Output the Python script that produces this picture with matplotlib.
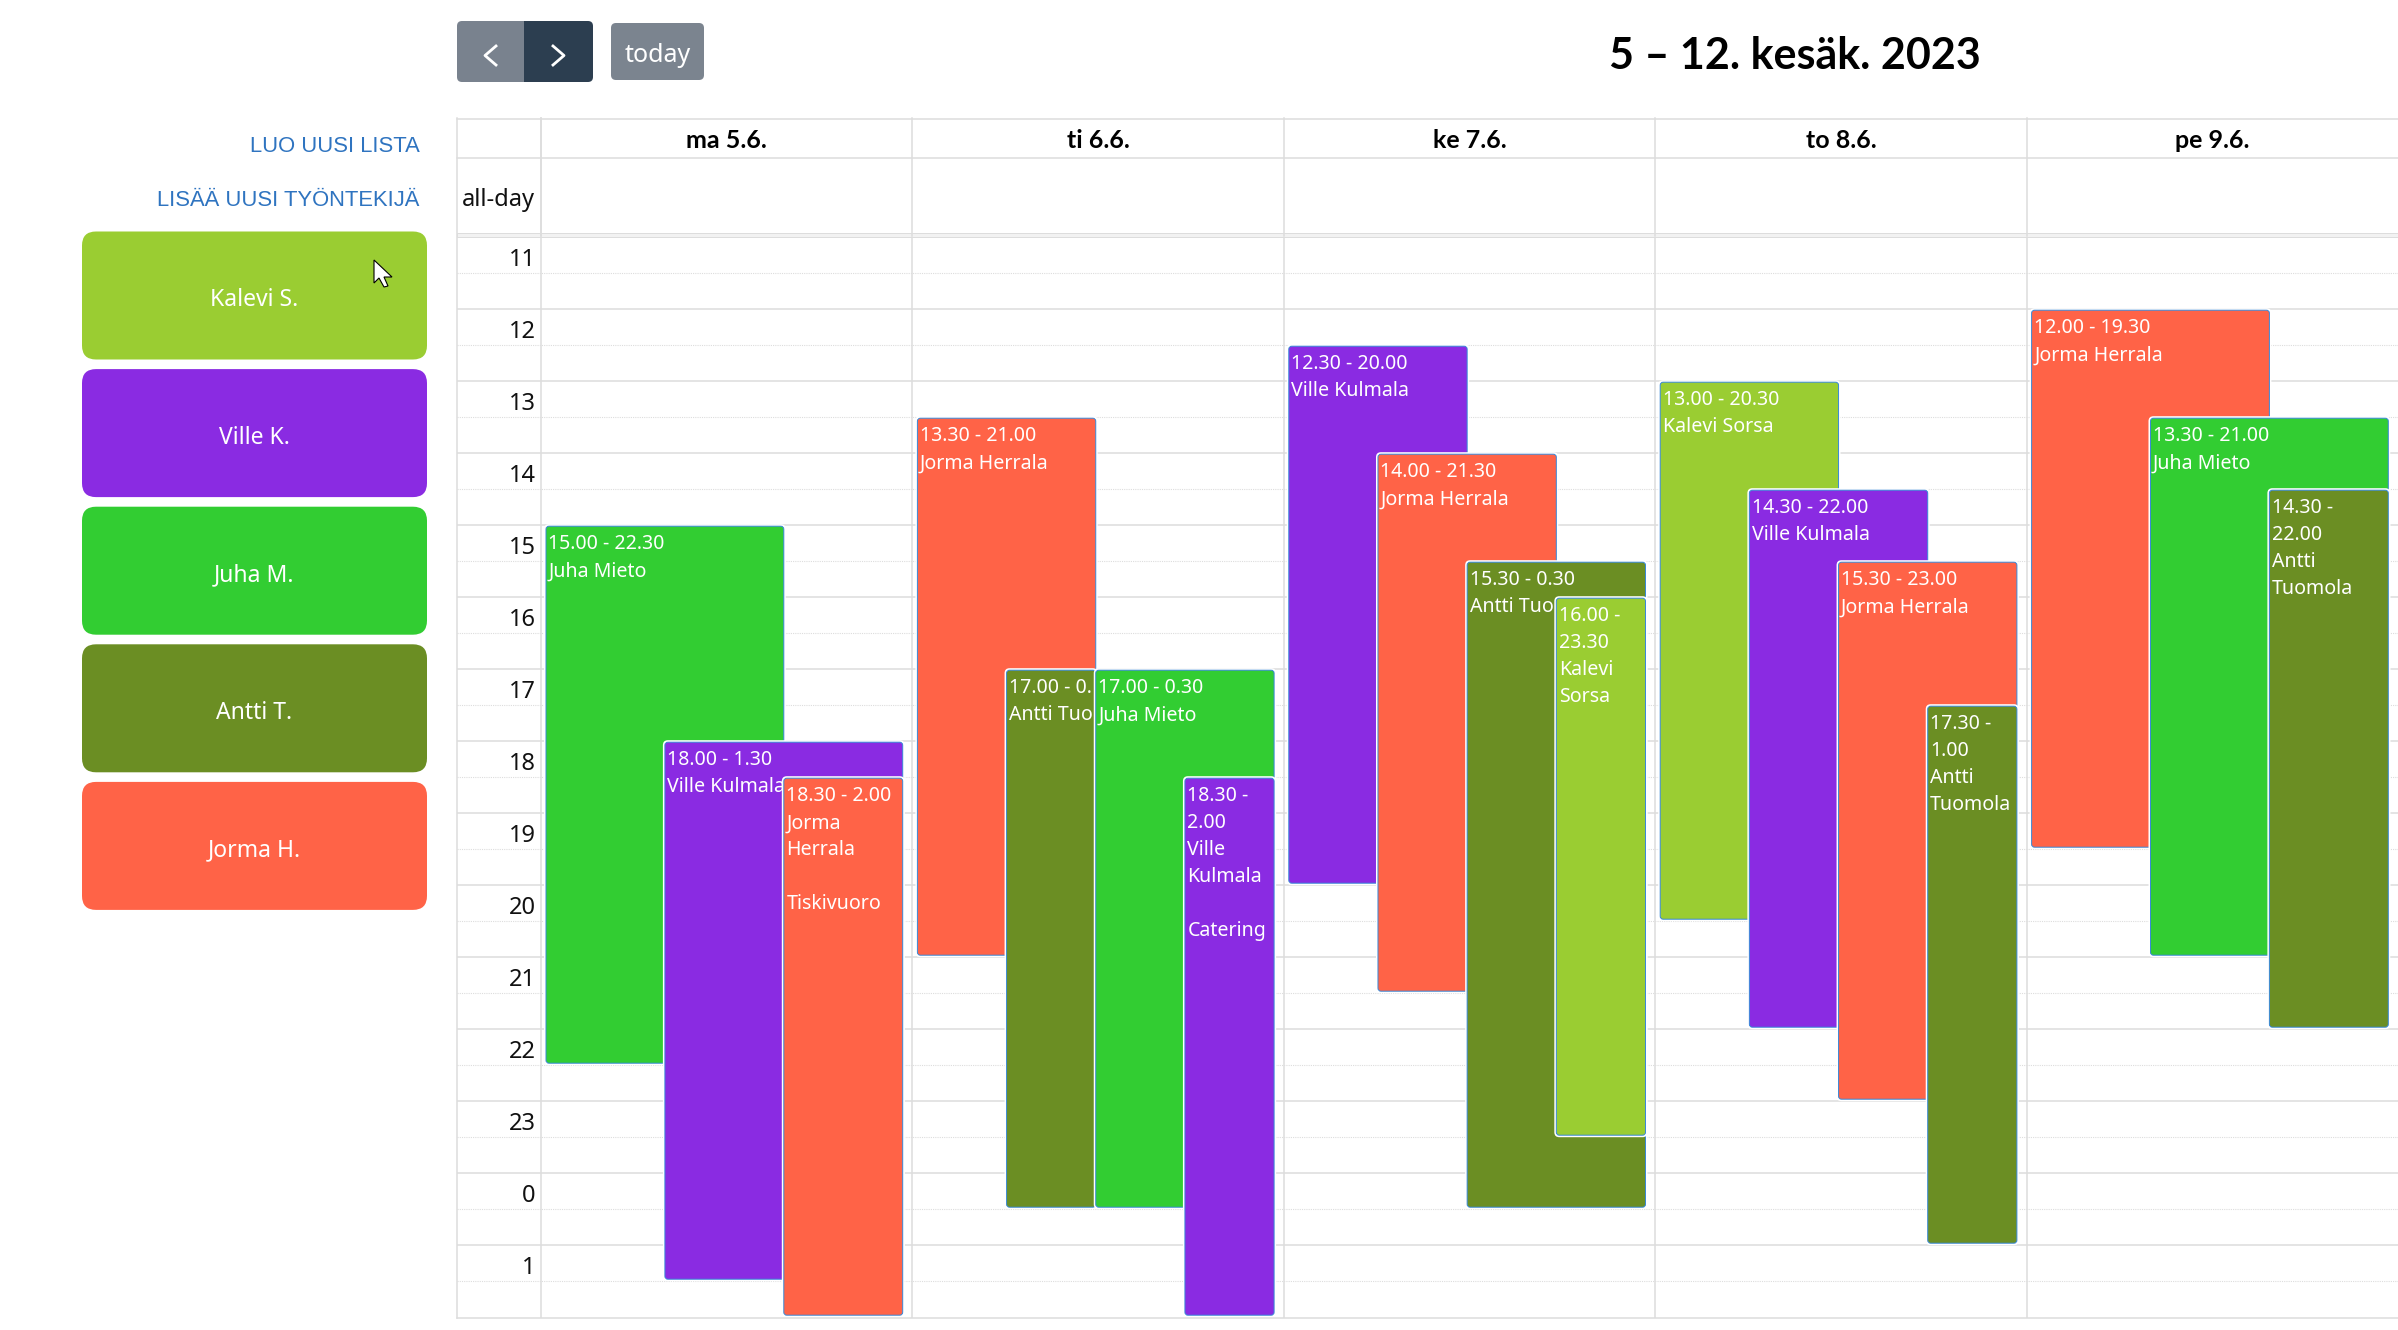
import matplotlib
matplotlib.use('Agg')
import matplotlib.pyplot as plt
from matplotlib.patches import FancyBboxPatch, Polygon, Rectangle
from matplotlib.transforms import offset_copy

plt.rcParams['font.family'] = ['Noto Sans', 'DejaVu Sans']

W, H = 2398, 1330

# calendar data
day_labels = ['ma 5.6.', 'ti 6.6.', 'ke 7.6.', 'to 8.6.', 'pe 9.6.']
hours = list(range(11, 26))
hour_labels = ['11', '12', '13', '14', '15', '16', '17', '18', '19', '20', '21', '22', '23', '0', '1']

staff_labels = ['Kalevi S.', 'Ville K.', 'Juha M.', 'Antti T.', 'Jorma H.']
staff_colors = ['#9ACD32', '#8A2BE2', '#32CD32', '#6B8E23', '#FF6347']

event_days = [0, 0, 0, 1, 1, 1, 1, 2, 2, 2, 2, 3, 3, 3, 3, 4, 4, 4]
event_starts = [15, 18, 18.5, 13.5, 17, 17, 18.5, 12.5, 14, 15.5, 16,
                13, 14.5, 15.5, 17.5, 12, 13.5, 14.5]
event_ends = [22.5, 25.5, 26, 21, 24.5, 24.5, 26, 20, 21.5, 24.5, 23.5,
              20.5, 22, 23, 25, 19.5, 21, 22]
event_staff = [2, 1, 4, 4, 3, 2, 1, 1, 4, 3, 0, 0, 1, 4, 3, 4, 2, 3]
# as far as each label can be read, some run under the next event
event_texts = [
    ['15.00 - 22.30', 'Juha Mieto'],
    ['18.00 - 1.30', 'Ville Kulmala'],
    ['18.30 - 2.00', 'Jorma', 'Herrala', '', 'Tiskivuoro'],
    ['13.30 - 21.00', 'Jorma Herrala'],
    ['17.00 - 0.', 'Antti Tuo'],
    ['17.00 - 0.30', 'Juha Mieto'],
    ['18.30 -', '2.00', 'Ville', 'Kulmala', '', 'Catering'],
    ['12.30 - 20.00', 'Ville Kulmala'],
    ['14.00 - 21.30', 'Jorma Herrala'],
    ['15.30 - 0.30', 'Antti Tuo'],
    ['16.00 -', '23.30', 'Kalevi', 'Sorsa'],
    ['13.00 - 20.30', 'Kalevi Sorsa'],
    ['14.30 - 22.00', 'Ville Kulmala'],
    ['15.30 - 23.00', 'Jorma Herrala'],
    ['17.30 -', '1.00', 'Antti', 'Tuomola'],
    ['12.00 - 19.30', 'Jorma Herrala'],
    ['13.30 - 21.00', 'Juha Mieto'],
    ['14.30 -', '22.00', 'Antti', 'Tuomola'],
]

# horizontal placement of each event inside its day column
event_lanes = [(0, 2 / 3), (1 / 3, 1), (2 / 3, 1),
               (0, 1 / 2), (1 / 4, 1 / 2), (1 / 2, 1), (3 / 4, 1),
               (0, 1 / 2), (1 / 4, 3 / 4), (1 / 2, 1), (3 / 4, 1),
               (0, 1 / 2), (1 / 4, 3 / 4), (1 / 2, 1), (3 / 4, 1),
               (0, 2 / 3), (1 / 3, 1), (2 / 3, 1)]

GRID = '#dddddd'
BORDER = '#3788d8'
DAY_PX = 371.4
HOUR_PX = 72.0
LEFT, AXIS, TOP, BOTTOM = 457, 541, 236.7, 1317.7

fig = plt.figure(figsize=(W / 100, H / 100), dpi=100, facecolor='w')

# the time grid, in days and hours
ax = fig.add_axes([LEFT / W, 1 - BOTTOM / H, (W - LEFT) / W, (BOTTOM - TOP) / H])
ax.set_xlim((LEFT - AXIS) / DAY_PX, (W - AXIS) / DAY_PX)
ax.set_ylim(11 + (BOTTOM - TOP) / HOUR_PX, 11)
ax.axis('off')

for h in hours:
    ax.plot(ax.get_xlim(), [h, h], color=GRID, lw=1.1, zorder=1)
    ax.plot(ax.get_xlim(), [h + 0.5, h + 0.5], color=GRID, lw=0.8, ls=(0, (1, 1)), zorder=1)
for d in range(len(day_labels)):
    ax.plot([d, d], ax.get_ylim(), color=GRID, lw=1.1, zorder=1)

hour_tr = offset_copy(ax.transData, fig=fig, x=-5.5, y=-23, units='dots')
for h, lab in zip(hours, hour_labels):
    ax.text(0, h, lab, transform=hour_tr, ha='right', va='center', fontsize=17, color='#111111', zorder=2)


def event_box(x0, x1, y0, y1, grow, fc, ec, lw, z):
    gx = grow / DAY_PX
    gy = grow / HOUR_PX
    box = FancyBboxPatch((x0 - gx, y0 - gy), x1 - x0 + 2 * gx, y1 - y0 + 2 * gy,
                         boxstyle='round,pad=0,rounding_size=%f' % ((3 + grow) / DAY_PX),
                         mutation_aspect=DAY_PX / HOUR_PX, fc=fc, ec=ec, lw=lw, zorder=z)
    ax.add_patch(box)


# later events sit on top and hide what runs under them
inner_l, inner_w = 5 / DAY_PX, 356.7 / DAY_PX
for i, day in enumerate(event_days):
    a, b = event_lanes[i]
    x0 = day + inner_l + a * inner_w
    x1 = day + inner_l + b * inner_w
    y0 = event_starts[i] + 1.5 / HOUR_PX
    y1 = event_ends[i] - 1.5 / HOUR_PX
    z = 10 + i
    event_box(x0, x1, y0, y1, 2.0, 'w', 'none', 0, z)
    event_box(x0, x1, y0, y1, 0, staff_colors[event_staff[i]], BORDER, 0.7, z)
    for n, line in enumerate(event_texts[i]):
        tr = offset_copy(ax.transData, fig=fig, x=2.5, y=-(18.3 + 27 * n), units='dots')
        t = ax.text(x0, y0, line, transform=tr, ha='left', va='center', color='w', fontsize=14.1, zorder=z)
        t.set_clip_path(Rectangle((x0, y0), x1 - x0, y1 - y0, transform=ax.transData))

# page furniture, in pixels
ui = fig.add_axes([0, 0, 1, 1])
ui.set_xlim(0, W)
ui.set_ylim(H, 0)
ui.axis('off')
ui.patch.set_alpha(0)

# header rows of the calendar
for y in [118.7, 157.7]:
    ui.plot([LEFT, W], [y, y], color=GRID, lw=1.1)
ui.add_patch(Rectangle((LEFT, 232.7), W - LEFT, 4, fc='#f2f2f2', ec=GRID, lw=0.7))
ui.plot([LEFT, LEFT], [118, BOTTOM], color=GRID, lw=1.1)
ui.plot([LEFT, W], [BOTTOM, BOTTOM], color=GRID, lw=1.1, zorder=1)
ui.plot([AXIS, AXIS], [118, 236], color=GRID, lw=1.1)
for d, lab in enumerate(day_labels):
    x = AXIS + d * DAY_PX
    ui.plot([x, x], [118, 236], color=GRID, lw=1.1)
    ui.text(x + DAY_PX / 2, 141, lab, ha='center', va='center', fontsize=18, family='Lato',
            fontweight='bold', color='k')
ui.text(535, 200, 'all-day', ha='right', va='center', fontsize=17, color='#111111')


def button(x0, y0, x1, y1, r, color, z=2):
    ui.add_patch(FancyBboxPatch((x0, y0), x1 - x0, y1 - y0,
                                boxstyle='round,pad=0,rounding_size=%f' % r, fc=color, ec='none', zorder=z))


# toolbar
button(457, 21, 530, 82, 5, '#79828e')
button(535, 21, 593, 82, 5, '#2c3e50', 3)
ui.add_patch(Rectangle((524, 21), 21, 61, fc='#2c3e50', ec='none', zorder=3))
ui.plot([496, 485, 496], [46, 55.5, 65], color='w', lw=2, zorder=4)
ui.plot([553, 564, 553], [46, 55.5, 65], color='w', lw=2, zorder=4)
button(611, 23, 704, 80, 5, '#7b848f')
ui.text(657.5, 56, 'today', ha='center', va='center', color='w', fontsize=18, zorder=4)
ui.text(1795, 56, '5 – 12. kesäk. 2023', ha='center', va='center', fontsize=31, family='Lato',
        fontweight='bold', color='k')

# side panel
ui.text(419.5, 146.5, 'LUO UUSI LISTA', ha='right', va='center', fontsize=15.8,
        family='Liberation Sans', color='#2f74c0')
ui.text(419.5, 200.5, 'LISÄÄ UUSI TYÖNTEKIJÄ', ha='right', va='center', fontsize=15.8,
        family='Liberation Sans', color='#2f74c0')
for i, (lab, col) in enumerate(zip(staff_labels, staff_colors)):
    y0 = 231.5 + i * 137.6
    button(82, y0, 427, y0 + 128, 14, col)
    ui.text(254.5, y0 + 68.5, lab, ha='center', va='center', color='w', fontsize=16.5, zorder=4)

# mouse pointer left in the screenshot
ui.add_patch(Polygon([(374, 260), (374, 283), (379, 278), (384, 287), (388, 286), (384, 277), (392, 277)],
                     closed=True, fc='w', ec='k', lw=0.8, zorder=5))

plt.savefig('out.png', dpi=100)
